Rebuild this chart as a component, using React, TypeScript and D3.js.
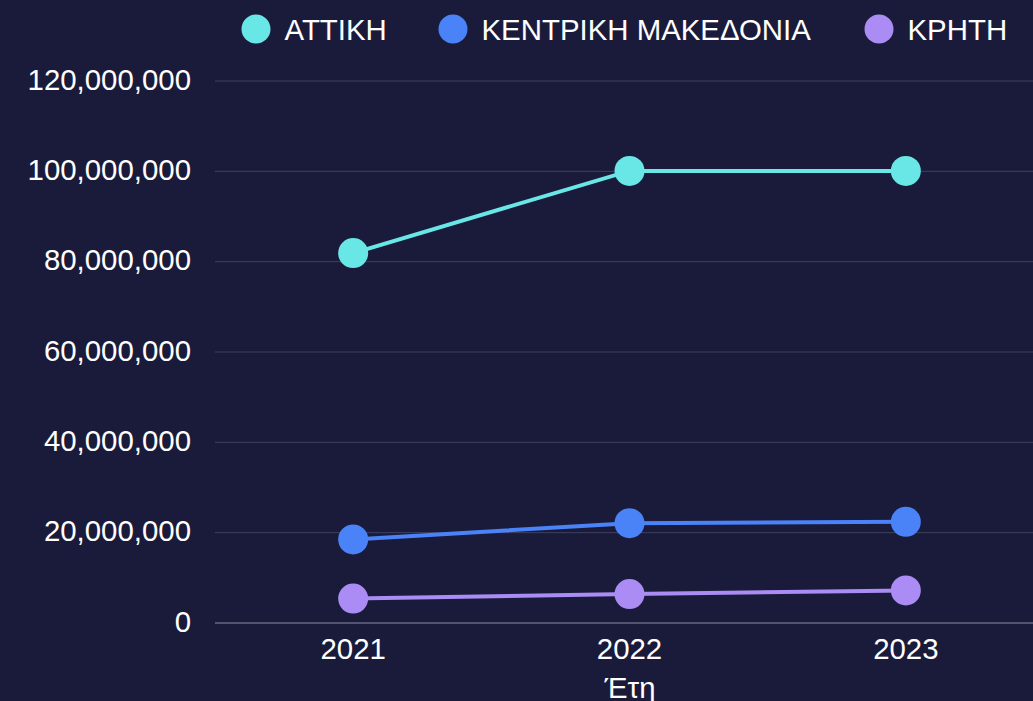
import React from "react";
import * as d3 from "d3";

const years = ["2021", "2022", "2023"];
const seriesNames = ["ΑΤΤΙΚΗ", "ΚΕΝΤΡΙΚΗ ΜΑΚΕΔΟΝΙΑ", "ΚΡΗΤΗ"];
const attiki = [81900000, 100100000, 100100000];
const kentriki = [18500000, 22100000, 22400000];
const kriti = [5400000, 6400000, 7200000];
const yTicks = [0, 20000000, 40000000, 60000000, 80000000, 100000000, 120000000];
const colors = ["#69e7e7", "#4a82f8", "#ab8cf4"];

const W = 1033;
const H = 701;

export default function App() {
  const series = [attiki, kentriki, kriti];
  const x = d3.scalePoint<string>().domain(years).range([215, 1044]).padding(0.5);
  const y = d3.scaleLinear().domain([0, 120000000]).range([623, 81]);
  const fmt = d3.format(",");
  const line = d3
    .line<number>()
    .x((_, i) => x(years[i]) as number)
    .y((d) => y(d));

  const legendX = [256, 453, 879];
  const font = "'Liberation Sans', Arial, sans-serif";
  const fs = 29.4;

  return (
    <svg
      width={W}
      height={H}
      style={{ position: "fixed", left: 0, top: 0, display: "block" }}
      fontFamily={font}
    >
      <rect x={0} y={0} width={W} height={H} fill="#1a1b3a" />
      {yTicks.map((t) => (
        <g key={t}>
          <line
            x1={215}
            x2={W}
            y1={y(t)}
            y2={y(t)}
            stroke={t === 0 ? "#8a8ba0" : "#3f4160"}
            strokeWidth={1}
          />
          <text
            x={191}
            y={y(t) - 2}
            textAnchor="end"
            dominantBaseline="central"
            fill="#ffffff"
            fontSize={fs}
          >
            {fmt(t)}
          </text>
        </g>
      ))}
      {years.map((yr) => (
        <text
          key={yr}
          x={x(yr) as number}
          y={659}
          textAnchor="middle"
          fill="#ffffff"
          fontSize={fs}
        >
          {yr}
        </text>
      ))}
      <text x={630} y={698} textAnchor="middle" fill="#ffffff" fontSize={fs}>
        Έτη
      </text>
      {series.map((s, si) => (
        <g key={si}>
          <path d={line(s) || ""} fill="none" stroke={colors[si]} strokeWidth={4} />
          {s.map((v, i) => (
            <circle key={i} cx={x(years[i]) as number} cy={y(v)} r={15} fill={colors[si]} />
          ))}
        </g>
      ))}
      {seriesNames.map((n, i) => (
        <g key={n}>
          <circle cx={legendX[i]} cy={29} r={14.5} fill={colors[i]} />
          <text
            x={legendX[i] + 28.5}
            y={29}
            dominantBaseline="central"
            fill="#ffffff"
            fontSize={fs}
          >
            {n}
          </text>
        </g>
      ))}
    </svg>
  );
}
